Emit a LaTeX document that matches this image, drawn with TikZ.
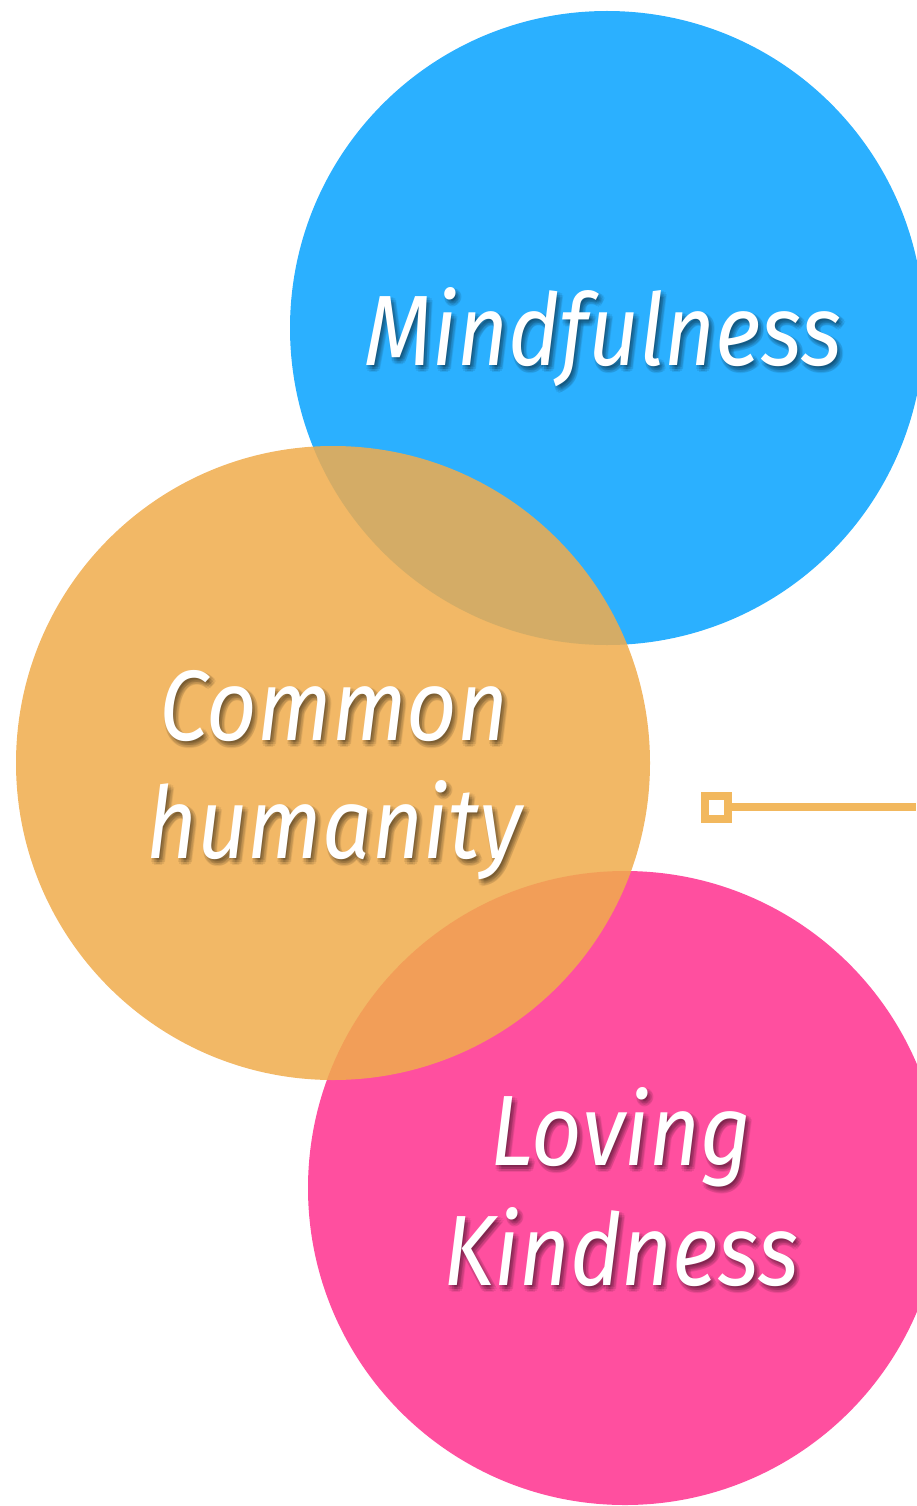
\documentclass[tikz,border=0pt]{standalone}
\usepackage{fontspec}
\setmainfont{Fira Sans}
\definecolor{cblue}{RGB}{43,176,255}
\definecolor{cpink}{RGB}{255,79,159}
\definecolor{corange}{RGB}{240,172,77}
\definecolor{cline}{RGB}{242,184,94}
\newcommand{\sq}[1]{\scalebox{0.88}[1]{#1}}
\newcommand{\shtext}[3]{%
  \foreach \dx/\dy in {3/4,0/4,6/4,3/1,3/7,1/2,5/2,1/6,5/6}{%
    \node[labeltext, text=black, opacity=0.07] at ([xshift=\dx pt,yshift=-\dy pt]#1) {\sq{#3}};}%
  \node[labeltext] (#2) at (#1) {\sq{#3}};}
\tikzset{
  bubble/.style={circle, minimum size=634pt, inner sep=0pt, draw=none},
  labeltext/.style={text=white, font=\fontsize{100}{120}\selectfont\itshape, align=center, inner sep=0pt, anchor=base},
  marker/.style={draw=cline, line width=8pt, minimum size=23pt, inner sep=0pt, fill=white},
  link/.style={draw=cline, line width=8pt}
}
\begin{document}
\begin{tikzpicture}[x=1pt,y=-1pt]
\useasboundingbox (0,0) rectangle (916,1506);
\node[bubble, fill=cblue] (mind) at (607,328) {};
\node[bubble, fill=cpink] (love) at (625,1188) {};
\node[bubble, fill=corange, fill opacity=0.86] (common) at (333,763) {};
\coordinate (m1) at (603,365);
\coordinate (c1) at (334,740);
\coordinate (c2) at (334,858);
\coordinate (l1) at (621,1165);
\coordinate (l2) at (621,1285);
\shtext{m1}{tmind}{Mindfulness}
\shtext{c1}{tcom1}{Common}
\shtext{c2}{tcom2}{humanity}
\shtext{l1}{tlov1}{Loving}
\shtext{l2}{tlov2}{Kindness}
\node[marker] (sq) at (716,807) {};
\coordinate (lineend) at (916,807);
\draw[link] (sq.east) -- (lineend);
\end{tikzpicture}
\end{document}
